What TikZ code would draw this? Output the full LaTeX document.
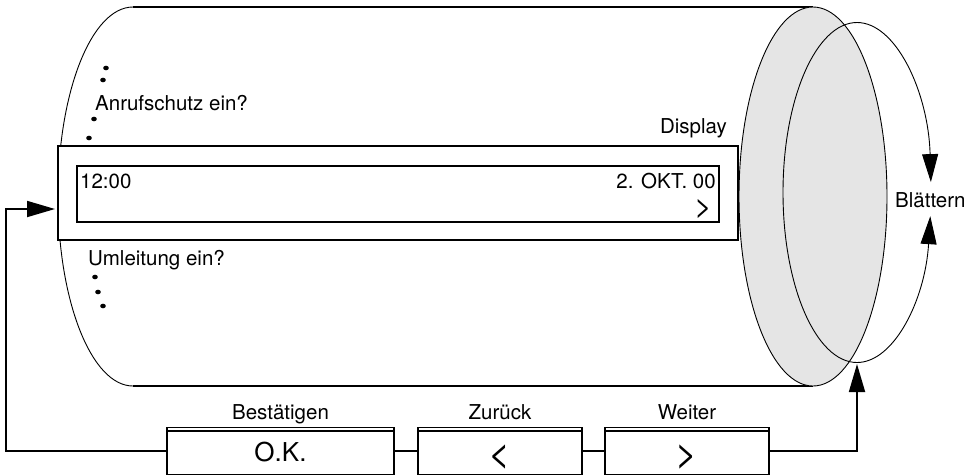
\documentclass[tikz,border=0pt]{standalone}
\usepackage{fontspec}
\setmainfont{TeX Gyre Heros}
\usetikzlibrary{arrows.meta}
\begin{document}
\begin{tikzpicture}[x=1pt,y=-1pt,
  thinline/.style={line width=0.9pt},
  edgeline/.style={line width=1.6pt},
  box/.style={draw, line width=1.8pt, fill=white, inner sep=0pt, outer sep=0pt},
  lbl/.style={font=\fontsize{20.5}{23}\selectfont, inner sep=0pt},
  oklbl/.style={font=\fontsize{26}{28}\selectfont, inner sep=0pt},
  arrlbl/.style={font=\fontsize{38}{40}\selectfont, inner sep=0pt},
  conn/.style={line width=1.8pt},
  tip/.style={-{Triangle[length=28pt,width=16pt]}},
  dotstyle/.style={fill=black}
]
\useasboundingbox (0,0) rectangle (977,475);

% cylinder body
\draw[thinline] (133,7) arc[start angle=90, end angle=270, x radius=75pt, y radius=189.5pt];
\draw[edgeline] (813,7) -- (133,7);
\draw[edgeline] (133,386) -- (813,386);

% front face (grey)
\draw[thinline, fill=black!10] (813,196.5) ellipse[x radius=74pt, y radius=189.5pt];

% rotating ring with arrows
\coordinate (ringtop) at (857,22.5);
\coordinate (ringbot) at (857,362.5);
\draw[thinline, tip] (ringtop) arc[start angle=90, end angle=3.5, x radius=74pt, y radius=170pt];
\draw[thinline] (ringtop) arc[start angle=90, end angle=270, x radius=74pt, y radius=170pt];
\draw[thinline, tip] (ringbot) arc[start angle=270, end angle=352, x radius=74pt, y radius=170pt];

% display boxes
\node[box, minimum width=680pt, minimum height=94pt, anchor=north west] (outer) at (58,146) {};
\node[box, line width=1.6pt, minimum width=642pt, minimum height=56pt, anchor=north west] (inner) at (77,166) {};

% texts on the cylinder
\node[lbl, anchor=base west] (anruf) at (95,110) {Anrufschutz ein?};
\node[lbl, anchor=base west] (umleit) at (88,265) {Umleitung ein?};
\node[lbl, anchor=base east] (disp) at (727,133) {Display};
\node[lbl, anchor=base west] (zeit) at (80,188) {12:00};
\node[lbl, anchor=base east] (datum) at (716,188) {2. OKT. 00};
\node[font=\fontsize{30}{32}\selectfont, inner sep=0pt, anchor=base east] (mehr) at (712,216) {>};
\node[lbl, anchor=base west] (blaettern) at (895,207) {Blättern};

% dots
\foreach \x/\y in {106/68, 103/80, 94/119, 89/138, 95/277, 98/292, 103/306}
  \fill[dotstyle] (\x,\y) ellipse[x radius=2.8pt, y radius=2.3pt];

% buttons
\node[box, minimum width=227pt, minimum height=47pt, anchor=north west] (ok) at (167,427.5) {};
\node[box, minimum width=164pt, minimum height=47pt, anchor=north west] (zur) at (418,427.5) {};
\node[box, minimum width=164pt, minimum height=47pt, anchor=north west] (wei) at (605,427.5) {};
\foreach \b in {ok,zur,wei}
  \draw[line width=1.2pt] ([yshift=-3.5pt]\b.north west) -- ([yshift=-3.5pt]\b.north east);

\node[oklbl, anchor=base] (oktxt) at (280.5,461) {O.K.};
\node[arrlbl, anchor=base] (zurtxt) at (500,466) {<};
\node[arrlbl, anchor=base] (weitxt) at (687,466) {>};

\node[lbl, anchor=base] (lbest) at (280.5,419) {Bestätigen};
\node[lbl, anchor=base] (lzur) at (500,419) {Zurück};
\node[lbl, anchor=base] (lwei) at (687,419) {Weiter};

% connectors
\draw[conn] (ok.east) -- (zur.west);
\draw[conn] (zur.east) -- (wei.west);
\coordinate (fbtip) at (55,209);
\draw[conn, tip] (ok.west) -| (6,209) -- (fbtip);
\coordinate (ringin) at (857,364);
\draw[conn, tip] (wei.east) -| (ringin);
\end{tikzpicture}
\end{document}
